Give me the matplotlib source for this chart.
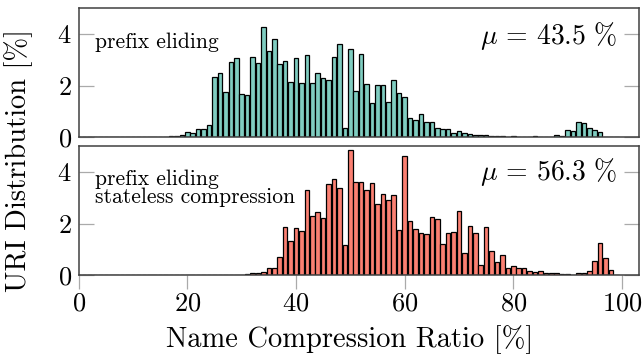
import matplotlib
matplotlib.use("Agg")
import matplotlib.pyplot as plt
import numpy as np

plt.rcParams['font.family'] = ['cmr10', 'DejaVu Serif']
plt.rcParams['mathtext.fontset'] = 'cm'
plt.rcParams['axes.unicode_minus'] = False
plt.rcParams['axes.formatter.use_mathtext'] = True

ratio_bins = list(range(100))

prefix_eliding = [0]*12 + [
    0.005, 0.01, 0.01, 0.02, 0.03, 0.04, 0.06, 0.10, 0.19, 0.17, 0.32, 0.33, 0.47,   # 12-24
    2.34, 2.50, 1.75, 2.91, 3.07, 1.67, 1.64, 3.12, 2.89, 4.26,                      # 25-34
    3.35, 3.82, 2.83, 2.95, 2.15, 3.09, 2.09, 3.19, 2.12, 2.51,                      # 35-44
    2.29, 2.21, 3.10, 3.63, 0.35, 3.42, 1.79, 3.23, 2.06, 1.33,                      # 45-54
    2.03, 2.01, 1.35, 2.23, 1.71, 1.55, 0.74, 0.66, 0.90, 0.60,                      # 55-64
    0.61, 0.36, 0.34, 0.31, 0.17, 0.25, 0.16, 0.12, 0.10, 0.09,                      # 65-74
    0.08, 0.05, 0.06, 0.04, 0.03, 0.04, 0.03, 0.03, 0.02, 0.05,                      # 75-84
    0.03, 0.02, 0.03, 0.09, 0.05, 0.28, 0.25, 0.60, 0.57, 0.35,                      # 85-94
    0.30, 0.19, 0.0, 0.0, 0.0]                                                       # 95-99

stateless = [0]*26 + [
    0.005, 0.01, 0.01, 0.02,                                                         # 26-29
    0.03, 0.06, 0.10, 0.10, 0.14, 0.28, 0.28, 0.70, 1.85, 1.33,                      # 30-39
    1.83, 1.72, 3.31, 2.30, 2.44, 2.21, 3.54, 3.72, 3.38, 1.19,                      # 40-49
    4.86, 3.59, 3.60, 3.31, 3.57, 2.77, 3.13, 2.91, 3.11, 1.75,                      # 50-59
    4.62, 2.10, 1.79, 1.63, 1.60, 2.24, 2.17, 1.20, 1.63, 1.67,                      # 60-69
    2.50, 0.88, 1.92, 1.63, 0.41, 1.86, 0.93, 0.52, 0.78, 0.27,                      # 70-79
    0.35, 0.27, 0.30, 0.15, 0.12, 0.17, 0.10, 0.08, 0.08, 0.04,                      # 80-89
    0.04, 0.03, 0.08, 0.08, 0.18, 0.57, 1.23, 0.66, 0.21, 0.0]                       # 90-99

panel_labels = ["prefix eliding", "prefix eliding\nstateless compression"]
means = [r"$\mu\,=\,43.5\ \%$", r"$\mu\,=\,56.3\ \%$"]
colors = ["#80cdc1", "#fb8072"]
x_ticks = [0, 20, 40, 60, 80, 100]
y_ticks = [0, 2, 4]

W, H = 642, 361
fig = plt.figure(figsize=(W/100, H/100), dpi=100)
left, right = 78.7/W, 639.3/W
boxes = [(8.3, 137.3), (146.0, 275.3)]
axes = []
for (t, b) in boxes:
    ax = fig.add_axes([left, 1-b/H, right-left, (b-t)/H])
    axes.append(ax)

label_y = [1-(40-8.3)/129, 1-(178-146)/129.3]
mean_y = [1-(36-8.3)/129, 1-(172-146)/129.3]
for i, (ax, data) in enumerate(zip(axes, [prefix_eliding, stateless])):
    ax.bar(ratio_bins, data, width=0.84, color=colors[i], edgecolor='black',
           linewidth=0.9, align='center', zorder=2)
    ax.set_xlim(0, 103.2)
    ax.set_ylim(0, 5)
    ax.set_yticks(y_ticks)
    ax.set_xticks(x_ticks)
    for sp in ax.spines.values():
        sp.set_color('#404040')
        sp.set_linewidth(1.1)
    ax.tick_params(axis='y', which='both', direction='in', length=11, width=0.9,
                   color='#aaaaaa', left=True, right=True, labelsize=19, pad=5)
    ax.tick_params(axis='x', direction='out', length=10, width=0.9, color='#aaaaaa',
                   labelsize=19, pad=2)
    ax.text(16.6/561, label_y[i], panel_labels[i], transform=ax.transAxes,
            ha='left', va='center_baseline' if i == 0 else 'top', fontsize=15.5,
            linespacing=0.95)
    ax.text(538.3/560.6, mean_y[i], means[i], transform=ax.transAxes, ha='right',
            va='center', fontsize=20)

# second panel label: place top line at the right height
axes[1].texts[0].set_y(1-(169-146)/129.3)
axes[0].tick_params(axis='x', bottom=False, labelbottom=False)

fig.text(19/W, 1-161/H, "URI Distribution [%]", rotation=90, ha='center',
         va='center', fontsize=20.5)
fig.text(350/W, 1-340/H, "Name Compression Ratio [%]", ha='center', va='center',
         fontsize=20.5)

fig.savefig("out.png", dpi=100)
